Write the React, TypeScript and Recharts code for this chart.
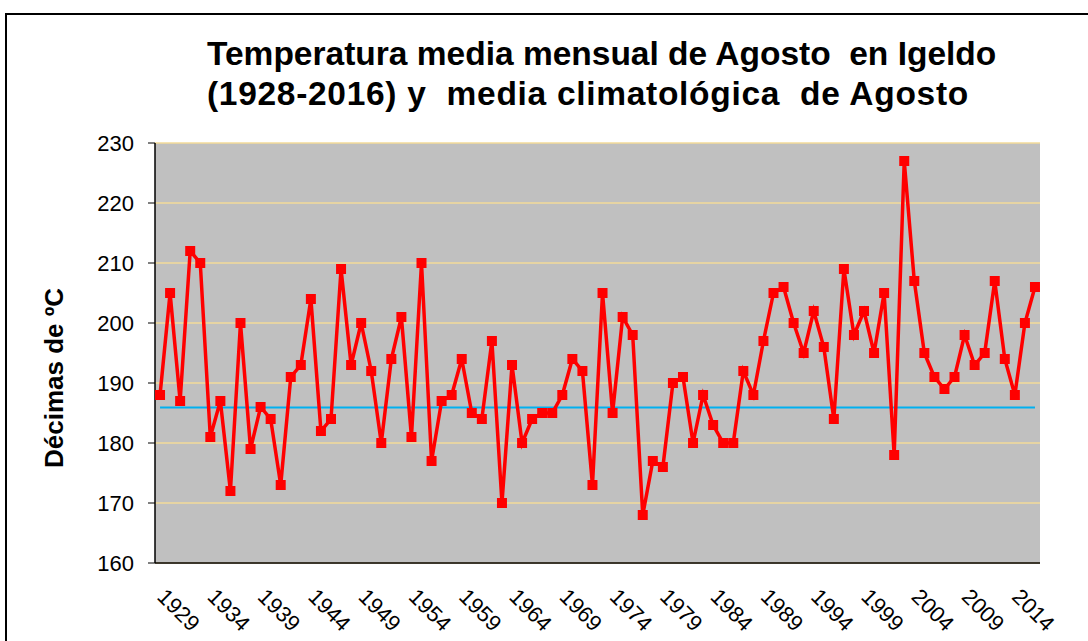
import { LineChart, Line, XAxis, YAxis, CartesianGrid, Label } from "recharts";

// Agosto, Igeldo: 1929-2016 (décimas de ºC)
const years = [
  "1929", "1930", "1931", "1932", "1933", "1934", "1935", "1936", "1937", "1938",
  "1939", "1940", "1941", "1942", "1943", "1944", "1945", "1946", "1947", "1948",
  "1949", "1950", "1951", "1952", "1953", "1954", "1955", "1956", "1957", "1958",
  "1959", "1960", "1961", "1962", "1963", "1964", "1965", "1966", "1967", "1968",
  "1969", "1970", "1971", "1972", "1973", "1974", "1975", "1976", "1977", "1978",
  "1979", "1980", "1981", "1982", "1983", "1984", "1985", "1986", "1987", "1988",
  "1989", "1990", "1991", "1992", "1993", "1994", "1995", "1996", "1997", "1998",
  "1999", "2000", "2001", "2002", "2003", "2004", "2005", "2006", "2007", "2008",
  "2009", "2010", "2011", "2012", "2013", "2014", "2015", "2016",
];

const temperatura = [
  188, 205, 187, 212, 210, 181, 187, 172, 200, 179,
  186, 184, 173, 191, 193, 204, 182, 184, 209, 193,
  200, 192, 180, 194, 201, 181, 210, 177, 187, 188,
  194, 185, 184, 197, 170, 193, 180, 184, 185, 185,
  188, 194, 192, 173, 205, 185, 201, 198, 168, 177,
  176, 190, 191, 180, 188, 183, 180, 180, 192, 188,
  197, 205, 206, 200, 195, 202, 196, 184, 209, 198,
  202, 195, 205, 178, 227, 207, 195, 191, 189, 191,
  198, 193, 195, 207, 194, 188, 200, 206,
];

const mediaClimatologica = 185.9;

const yTicks = [160, 170, 180, 190, 200, 210, 220, 230];
const labelTicks = [0, 5, 10, 15, 20, 25, 30, 35, 40, 45, 50, 55, 60, 65, 70, 75, 80, 85];
const edgeTicks = Array.from({ length: years.length + 1 }, (_, i) => i - 0.5);

const data = years.map((year, i) => ({
  idx: i,
  year,
  temp: temperatura[i],
  media: mediaClimatologica,
}));

const FONT = "'Liberation Sans', Arial, sans-serif";

const YearTick = (props: any) => {
  const { x, y, payload } = props;
  const tx = x - 4;
  const ty = y + 27;
  return (
    <text
      x={tx}
      y={ty}
      transform={`rotate(45 ${tx} ${ty})`}
      fontSize={22}
      fontFamily={FONT}
      fill="#000"
      textAnchor="start"
    >
      {years[payload.value]}
    </text>
  );
};

const SquareDot = (props: any) => {
  const { cx, cy, index } = props;
  if (cx == null || cy == null) return null;
  return <rect key={`d-${index}`} x={cx - 5} y={cy - 5} width={10} height={10} fill="#FF0000" />;
};

const titleStyle = {
  position: "absolute" as const,
  left: 207,
  fontSize: 33.5,
  fontWeight: "bold" as const,
  lineHeight: "40px",
  whiteSpace: "pre" as const,
  color: "#000",
};

export default function App() {
  return (
    <div
      style={{
        position: "absolute",
        left: 0,
        top: 0,
        width: 1088,
        height: 641,
        background: "#fff",
        overflow: "hidden",
        fontFamily: FONT,
      }}
    >
      <div
        style={{
          position: "absolute",
          left: 5,
          top: 13,
          width: 1200,
          height: 800,
          borderLeft: "2px solid #000",
          borderTop: "2px solid #000",
        }}
      />
      <div style={{ ...titleStyle, top: 34 }}>Temperatura media mensual de Agosto  en Igeldo</div>
      <div style={{ ...titleStyle, top: 74, letterSpacing: 0.7 }}>(1928-2016) y  media climatológica  de Agosto</div>
      <LineChart
        width={1088}
        height={641}
        data={data}
        margin={{ top: 143, right: 48, bottom: 0, left: 0 }}
        style={{ position: "absolute", left: 0, top: 0 }}
      >
        <CartesianGrid
          xAxisId="edges"
          vertical={false}
          stroke="#F3DB9A"
          strokeWidth={1.5}
          fill="#C0C0C0"
          fillOpacity={1}
        />
        <XAxis
          xAxisId="edges"
          type="number"
          dataKey="idx"
          domain={[-0.5, years.length - 0.5]}
          ticks={edgeTicks}
          interval={0}
          tick={false}
          tickSize={7}
          height={8}
          axisLine={{ stroke: "#000", strokeWidth: 1.5 }}
          tickLine={{ stroke: "#000" }}
        />
        <XAxis
          xAxisId="labels"
          type="number"
          dataKey="idx"
          domain={[-0.5, years.length - 0.5]}
          ticks={labelTicks}
          interval={0}
          tick={<YearTick />}
          tickSize={0}
          tickMargin={0}
          height={70}
          axisLine={false}
          tickLine={false}
        />
        <YAxis
          domain={[160, 230]}
          ticks={yTicks}
          interval={0}
          width={155}
          tickSize={7}
          tickMargin={14}
          axisLine={{ stroke: "#000", strokeWidth: 1.5 }}
          tickLine={{ stroke: "#000" }}
          tick={{ fill: "#000", fontSize: 22, fontFamily: FONT }}
        >
          <Label
            content={(p: any) => {
              const vb = p.viewBox || { x: 0, y: 143, width: 155, height: 420 };
              const lx = vb.x + 63;
              const ly = vb.y + vb.height / 2 + 25;
              return (
                <text
                  x={lx}
                  y={ly}
                  transform={`rotate(-90 ${lx} ${ly})`}
                  textAnchor="middle"
                  fontSize={26}
                  fontWeight="bold"
                  fontFamily={FONT}
                  fill="#000"
                >
                  Décimas de ºC
                </text>
              );
            }}
          />
        </YAxis>
        <Line
          xAxisId="edges"
          type="linear"
          dataKey="media"
          stroke="#00B0F0"
          strokeWidth={2}
          dot={false}
          activeDot={false}
          isAnimationActive={false}
        />
        <Line
          xAxisId="edges"
          type="linear"
          dataKey="temp"
          stroke="#FF0000"
          strokeWidth={3.5}
          dot={<SquareDot />}
          activeDot={false}
          isAnimationActive={false}
        />
      </LineChart>
    </div>
  );
}
